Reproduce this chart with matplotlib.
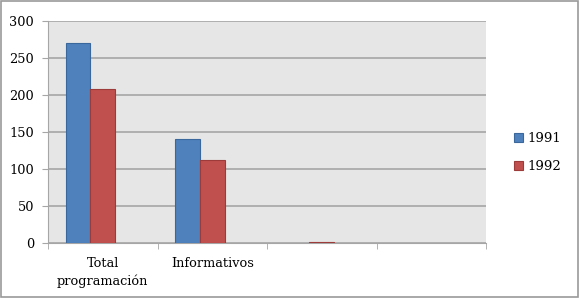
import matplotlib
matplotlib.use('Agg')
import matplotlib.pyplot as plt
import numpy as np
from matplotlib.patches import Rectangle

categories = ['Total\nprogramación', 'Informativos', '', '']
v1991 = [270, 140, np.nan, np.nan]
v1992 = [208, 112, 2, np.nan]
yticks = [0, 50, 100, 150, 200, 250, 300]

plt.rcParams['font.family'] = ['DejaVu Serif']

fig = plt.figure(figsize=(5.8, 2.98), dpi=100)
ax = fig.add_axes([48/580, 1 - 243/298, 438/580, 222/298])
ax.set_facecolor('#e6e6e6')

x = np.arange(len(categories))
w = 0.224
b1 = ax.bar(x - w, v1991, w, color='#4f81bd', edgecolor='#3a679c', linewidth=0.8, label='1991', zorder=3)
b2 = ax.bar(x, v1992, w, color='#c0504d', edgecolor='#9c3b39', linewidth=0.8, label='1992', zorder=3)

ax.set_xlim(-0.5, len(categories) - 0.5)
ax.set_ylim(0, 300)
ax.set_yticks(yticks)
ax.set_yticklabels([str(t) for t in yticks], fontsize=9.3)
ax.yaxis.grid(True, color='#a6a6a6', linewidth=1.2, zorder=1)
ax.set_axisbelow(True)

ax.set_xticks(x)
ax.set_xticklabels(categories, fontsize=9.3, linespacing=1.45)
ax.tick_params(axis='x', length=0, pad=10)
ax.set_xticks(np.arange(-0.5, len(categories)), minor=True)
ax.tick_params(axis='x', which='minor', length=4, color='#a6a6a6')
ax.tick_params(axis='y', length=4, color='#a6a6a6', pad=6)

for s in ['top', 'right']:
    ax.spines[s].set_visible(False)
for s in ['left', 'bottom']:
    ax.spines[s].set_color('#a6a6a6')

leg = fig.legend(handles=[b1, b2], loc='upper left', bbox_to_anchor=(502/580, 1 - 120/298),
                 frameon=False, fontsize=9.5, handlelength=0.7, handleheight=0.7,
                 handletextpad=0.3, labelspacing=1.15)

fig.patches.append(Rectangle((0.002, 0.003), 0.994, 0.992, transform=fig.transFigure,
                             fill=False, edgecolor='#9a9a9a', linewidth=1.2))

fig.savefig('out.png', dpi=100)
